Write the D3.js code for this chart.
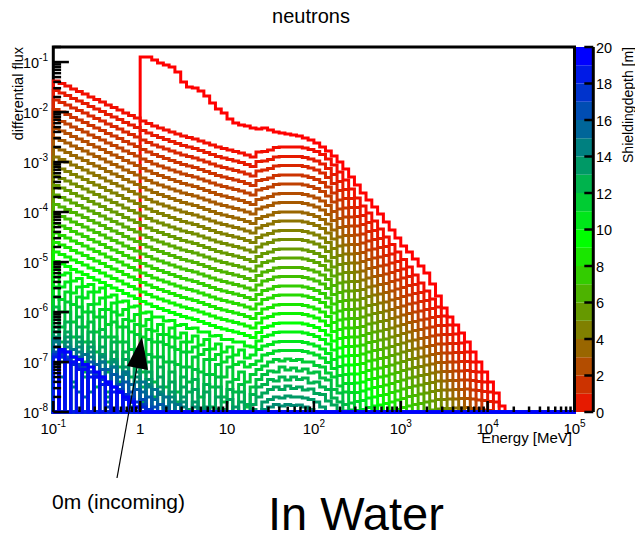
<!DOCTYPE html>
<html>
<head>
<meta charset="utf-8">
<title>neutrons</title>
<script src="https://cdn.jsdelivr.net/npm/d3@7/dist/d3.min.js"></script>
<style>
  html, body { margin: 0; padding: 0; background: #fff; }
  svg text { font-family: "Liberation Sans", Arial, Helvetica, sans-serif; fill: #000; }
</style>
</head>
<body>
<svg id="chart" width="635" height="540"></svg>
<script>
// Neutron spectra behind increasing water shielding depth.
// Every spectrum is a histogram over 90 log-spaced energy bins (15 per decade, 0.1 MeV .. 1e5 MeV).
// Values are log10(differential flux) per bin, starting at bin 0 (the incoming spectrum starts at bin 15);
// null marks an empty bin, bins past the end of an array are empty.

const energyRange = [0.1, 1e5];
const binsPerDecade = 15;
const fluxRange = [1e-8, 0.2];
const depthRange = [0, 20];
const xTickExponents = [-1, 0, 1, 2, 3, 4, 5];
const yTickExponents = [-8, -7, -6, -5, -4, -3, -2, -1];
const depthTicks = [0, 2, 4, 6, 8, 10, 12, 14, 16, 18, 20];
const incomingStartBin = 15;

const depths = [0, 0.5, 1, 1.5, 2, 2.5, 3, 3.5, 4, 4.5, 5, 5.5, 6, 6.5, 7, 7.5, 8, 8.5, 9, 9.5, 10,
                10.5, 11, 11.5, 12, 12.5, 13, 13.5, 14, 14.5, 15, 15.5, 16, 16.5, 17, 17.5, 18, 18.5, 19, 19.5, 20];

const f0_0 = [-0.90,-0.90,-0.96,-1.02,-1.06,-1.10,-1.20,-1.40,-1.50,-1.52,-1.58,-1.68,-1.82,-1.94,-2.02,-2.14,-2.22,-2.26,-2.28,-2.32,-2.34,
  -2.32,-2.36,-2.40,-2.42,-2.44,-2.46,-2.48,-2.52,-2.56,-2.62,-2.70,-2.78,-2.88,-3.00,-3.14,-3.30,-3.46,-3.62,-3.76,-3.90,-4.04,-4.20,-4.36,-4.52,
  -4.68,-4.80,-4.94,-5.08,-5.22,-5.44,-5.68,-5.92,-6.10,-6.26,-6.42,-6.60,-6.80,-7.00,-7.20,-7.40,-7.62,-7.88];
const f0_5 = [-1.38,-1.43,-1.48,-1.54,-1.59,-1.64,-1.70,-1.75,-1.80,-1.86,-1.91,-1.96,-2.02,-2.07,-2.12,-2.18,-2.23,-2.28,-2.32,-2.36,-2.40,-2.44,-2.48,-2.51,-2.54,-2.58,-2.62,-2.66,-2.70,-2.73,-2.76,-2.79,-2.82,-2.86,-2.90,-2.80,
  -2.79,-2.76,-2.71,-2.70,-2.70,-2.70,-2.70,-2.72,-2.75,-2.79,-2.85,-2.94,-3.06,-3.20,-3.36,-3.54,-3.72,-3.88,-4.02,-4.18,-4.34,-4.50,-4.65,-4.80,-4.95,-5.10,-5.26,-5.42,-5.58,-5.74,-5.90,-6.08,-6.26,-6.44,-6.62,-6.80,-7.00,-7.20,-7.40,-7.60,-7.80,-8.00];
const f1_0 = [-1.57,-1.62,-1.67,-1.73,-1.78,-1.83,-1.89,-1.94,-1.99,-2.05,-2.10,-2.15,-2.21,-2.26,-2.31,-2.37,-2.42,-2.47,-2.51,-2.55,-2.59,-2.63,-2.67,-2.70,-2.73,-2.77,-2.81,-2.85,-2.89,-2.92,-2.95,-2.98,-3.01,-3.05,-3.09,-2.99,
  -2.98,-2.95,-2.90,-2.89,-2.89,-2.89,-2.89,-2.91,-2.94,-2.98,-3.04,-3.13,-3.25,-3.39,-3.55,-3.73,-3.91,-4.07,-4.21,-4.37,-4.53,-4.69,-4.84,-4.99,-5.14,-5.29,-5.45,-5.61,-5.77,-5.93,-6.09,-6.27,-6.45,-6.63,-6.81,-6.99,-7.19,-7.39,-7.59,-7.79,-7.99];
const f1_5 = [-1.76,-1.81,-1.86,-1.92,-1.97,-2.02,-2.08,-2.13,-2.18,-2.24,-2.29,-2.34,-2.40,-2.45,-2.50,-2.56,-2.61,-2.66,-2.70,-2.74,-2.78,-2.82,-2.86,-2.89,-2.92,-2.96,-3.00,-3.04,-3.08,-3.11,-3.14,-3.17,-3.20,-3.24,-3.28,-3.18,
  -3.16,-3.13,-3.08,-3.07,-3.07,-3.07,-3.07,-3.09,-3.12,-3.16,-3.22,-3.31,-3.43,-3.57,-3.73,-3.91,-4.09,-4.25,-4.39,-4.55,-4.71,-4.87,-5.02,-5.17,-5.32,-5.47,-5.63,-5.79,-5.95,-6.11,-6.27,-6.45,-6.63,-6.81,-6.99,-7.17,-7.37,-7.57,-7.77,-7.97];
const f2_0 = [-1.95,-2.00,-2.05,-2.11,-2.16,-2.21,-2.27,-2.32,-2.37,-2.43,-2.48,-2.53,-2.59,-2.64,-2.69,-2.75,-2.80,-2.85,-2.89,-2.93,-2.97,-3.01,-3.05,-3.08,-3.11,-3.15,-3.19,-3.23,-3.27,-3.30,-3.33,-3.36,-3.39,-3.43,-3.47,-3.37,
  -3.35,-3.32,-3.27,-3.26,-3.26,-3.26,-3.26,-3.28,-3.31,-3.35,-3.41,-3.50,-3.62,-3.76,-3.92,-4.10,-4.28,-4.44,-4.58,-4.74,-4.90,-5.06,-5.21,-5.36,-5.51,-5.66,-5.82,-5.98,-6.14,-6.30,-6.46,-6.64,-6.82,-7.00,-7.18,-7.36,-7.56,-7.76,-7.96];
const f2_5 = [-2.14,-2.19,-2.24,-2.30,-2.35,-2.40,-2.46,-2.51,-2.56,-2.62,-2.67,-2.72,-2.78,-2.83,-2.88,-2.94,-2.99,-3.04,-3.08,-3.12,-3.16,-3.20,-3.24,-3.27,-3.30,-3.34,-3.38,-3.42,-3.46,-3.49,-3.52,-3.55,-3.58,-3.62,-3.66,-3.56,
  -3.53,-3.50,-3.45,-3.44,-3.44,-3.44,-3.44,-3.46,-3.49,-3.53,-3.59,-3.68,-3.80,-3.94,-4.10,-4.28,-4.46,-4.62,-4.76,-4.92,-5.08,-5.24,-5.39,-5.54,-5.69,-5.84,-6.00,-6.16,-6.32,-6.48,-6.64,-6.82,-7.00,-7.18,-7.36,-7.54,-7.74,-7.94];
const f3_0 = [-2.33,-2.38,-2.43,-2.49,-2.54,-2.59,-2.65,-2.70,-2.75,-2.81,-2.86,-2.91,-2.97,-3.02,-3.07,-3.13,-3.18,-3.23,-3.27,-3.31,-3.35,-3.39,-3.43,-3.46,-3.49,-3.53,-3.57,-3.61,-3.65,-3.68,-3.71,-3.74,-3.77,-3.81,-3.85,-3.75,
  -3.72,-3.69,-3.64,-3.63,-3.63,-3.63,-3.63,-3.65,-3.68,-3.72,-3.78,-3.87,-3.99,-4.13,-4.29,-4.47,-4.65,-4.81,-4.95,-5.11,-5.27,-5.43,-5.58,-5.73,-5.88,-6.03,-6.19,-6.35,-6.51,-6.67,-6.83,-7.01,-7.19,-7.37,-7.55,-7.73,-7.93];
const f3_5 = [-2.52,-2.57,-2.62,-2.68,-2.73,-2.78,-2.84,-2.89,-2.94,-3.00,-3.05,-3.10,-3.16,-3.21,-3.26,-3.32,-3.37,-3.42,-3.46,-3.50,-3.54,-3.58,-3.62,-3.65,-3.68,-3.72,-3.76,-3.80,-3.84,-3.87,-3.90,-3.93,-3.96,-4.00,-4.04,-3.94,
  -3.90,-3.87,-3.82,-3.81,-3.81,-3.81,-3.81,-3.83,-3.86,-3.90,-3.96,-4.05,-4.17,-4.31,-4.47,-4.65,-4.83,-4.99,-5.13,-5.29,-5.45,-5.61,-5.76,-5.91,-6.06,-6.21,-6.37,-6.53,-6.69,-6.85,-7.01,-7.19,-7.37,-7.55,-7.73,-7.91];
const f4_0 = [-2.71,-2.76,-2.81,-2.87,-2.92,-2.97,-3.03,-3.08,-3.13,-3.19,-3.24,-3.29,-3.35,-3.40,-3.45,-3.51,-3.56,-3.61,-3.65,-3.69,-3.73,-3.77,-3.81,-3.84,-3.87,-3.91,-3.95,-3.99,-4.03,-4.06,-4.09,-4.12,-4.15,-4.19,-4.23,-4.13,
  -4.09,-4.06,-4.01,-4.00,-4.00,-4.00,-4.00,-4.02,-4.05,-4.09,-4.15,-4.24,-4.36,-4.50,-4.66,-4.84,-5.02,-5.18,-5.32,-5.48,-5.64,-5.80,-5.95,-6.10,-6.25,-6.40,-6.56,-6.72,-6.88,-7.04,-7.20,-7.38,-7.56,-7.74,-7.92];
const f4_5 = [-2.90,-2.95,-3.00,-3.06,-3.11,-3.16,-3.22,-3.27,-3.32,-3.38,-3.43,-3.48,-3.54,-3.59,-3.64,-3.70,-3.75,-3.80,-3.84,-3.88,-3.92,-3.96,-4.00,-4.03,-4.06,-4.10,-4.14,-4.18,-4.22,-4.25,-4.28,-4.31,-4.34,-4.38,-4.42,-4.32,
  -4.27,-4.24,-4.19,-4.18,-4.18,-4.18,-4.18,-4.20,-4.23,-4.27,-4.33,-4.42,-4.54,-4.68,-4.84,-5.02,-5.20,-5.36,-5.50,-5.66,-5.82,-5.98,-6.13,-6.28,-6.43,-6.58,-6.74,-6.90,-7.06,-7.22,-7.38,-7.56,-7.74,-7.92];
const f5_0 = [-3.09,-3.14,-3.19,-3.25,-3.30,-3.35,-3.41,-3.46,-3.51,-3.57,-3.62,-3.67,-3.73,-3.78,-3.83,-3.89,-3.94,-3.99,-4.03,-4.07,-4.11,-4.15,-4.19,-4.22,-4.25,-4.29,-4.33,-4.37,-4.41,-4.44,-4.47,-4.50,-4.53,-4.57,-4.61,-4.51,
  -4.46,-4.43,-4.38,-4.37,-4.37,-4.37,-4.37,-4.39,-4.42,-4.46,-4.52,-4.61,-4.73,-4.87,-5.03,-5.21,-5.39,-5.55,-5.69,-5.85,-6.01,-6.17,-6.32,-6.47,-6.62,-6.77,-6.93,-7.09,-7.25,-7.41,-7.57,-7.75,-7.93];
const f5_5 = [-3.28,-3.33,-3.38,-3.44,-3.49,-3.54,-3.60,-3.65,-3.70,-3.76,-3.81,-3.86,-3.92,-3.97,-4.02,-4.08,-4.13,-4.18,-4.22,-4.26,-4.30,-4.34,-4.38,-4.41,-4.44,-4.48,-4.52,-4.56,-4.60,-4.63,-4.66,-4.69,-4.72,-4.76,-4.80,-4.70,
  -4.64,-4.61,-4.56,-4.55,-4.55,-4.55,-4.55,-4.57,-4.60,-4.64,-4.70,-4.79,-4.91,-5.05,-5.21,-5.39,-5.57,-5.73,-5.87,-6.03,-6.19,-6.35,-6.50,-6.65,-6.80,-6.95,-7.11,-7.27,-7.43,-7.59,-7.75,-7.93];
const f6_0 = [-3.47,-3.52,-3.57,-3.63,-3.68,-3.73,-3.79,-3.84,-3.89,-3.95,-4.00,-4.05,-4.11,-4.16,-4.21,-4.27,-4.32,-4.37,-4.41,-4.45,-4.49,-4.53,-4.57,-4.60,-4.63,-4.67,-4.71,-4.75,-4.79,-4.82,-4.85,-4.88,-4.91,-4.95,-4.99,-4.89,
  -4.83,-4.80,-4.75,-4.74,-4.74,-4.74,-4.74,-4.76,-4.79,-4.83,-4.89,-4.98,-5.10,-5.24,-5.40,-5.58,-5.76,-5.92,-6.06,-6.22,-6.38,-6.54,-6.69,-6.84,-6.99,-7.14,-7.30,-7.46,-7.62,-7.78,-7.94];
const f6_5 = [-3.66,-3.71,-3.76,-3.82,-3.87,-3.92,-3.98,-4.03,-4.08,-4.14,-4.19,-4.24,-4.30,-4.35,-4.40,-4.46,-4.51,-4.56,-4.60,-4.64,-4.68,-4.72,-4.76,-4.79,-4.82,-4.86,-4.90,-4.94,-4.98,-5.01,-5.04,-5.07,-5.10,-5.14,-5.18,-5.08,
  -5.01,-4.98,-4.93,-4.92,-4.92,-4.92,-4.92,-4.94,-4.97,-5.01,-5.07,-5.16,-5.28,-5.42,-5.58,-5.76,-5.94,-6.10,-6.24,-6.40,-6.56,-6.72,-6.87,-7.02,-7.17,-7.32,-7.48,-7.64,-7.80,-7.96];
const f7_0 = [-3.85,-3.90,-3.95,-4.01,-4.06,-4.11,-4.17,-4.22,-4.27,-4.33,-4.38,-4.43,-4.49,-4.54,-4.59,-4.65,-4.70,-4.75,-4.79,-4.83,-4.87,-4.91,-4.95,-4.98,-5.01,-5.05,-5.09,-5.13,-5.17,-5.20,-5.23,-5.26,-5.29,-5.33,-5.37,-5.27,
  -5.20,-5.17,-5.12,-5.11,-5.11,-5.11,-5.11,-5.13,-5.16,-5.20,-5.26,-5.35,-5.47,-5.61,-5.77,-5.95,-6.13,-6.29,-6.43,-6.59,-6.75,-6.91,-7.06,-7.21,-7.36,-7.51,-7.67,-7.83,-7.99];
const f7_5 = [-4.04,-4.09,-4.14,-4.20,-4.25,-4.30,-4.36,-4.41,-4.46,-4.52,-4.57,-4.62,-4.68,-4.73,-4.78,-4.84,-4.89,-4.94,-4.98,-5.02,-5.06,-5.10,-5.14,-5.17,-5.20,-5.24,-5.28,-5.32,-5.36,-5.39,-5.42,-5.45,-5.48,-5.52,-5.56,-5.46,
  -5.38,-5.35,-5.30,-5.29,-5.29,-5.29,-5.29,-5.31,-5.34,-5.38,-5.44,-5.53,-5.65,-5.79,-5.95,-6.13,-6.31,-6.47,-6.61,-6.77,-6.93,-7.09,-7.24,-7.39,-7.54,-7.69,-7.85];
const f8_0 = [-4.23,-4.28,-4.33,-4.39,-4.44,-4.49,-4.55,-4.60,-4.65,-4.71,-4.76,-4.81,-4.87,-4.92,-4.97,-5.03,-5.08,-5.13,-5.17,-5.21,-5.25,-5.29,-5.33,-5.36,-5.39,-5.43,-5.47,-5.51,-5.55,-5.58,-5.61,-5.64,-5.67,-5.71,-5.75,-5.65,
  -5.57,-5.54,-5.49,-5.48,-5.48,-5.48,-5.48,-5.50,-5.53,-5.57,-5.63,-5.72,-5.84,-5.98,-6.14,-6.32,-6.50,-6.66,-6.80,-6.96,-7.12,-7.28,-7.43,-7.58,-7.73,-7.88];
const f8_5 = [-4.42,-4.47,-4.52,-4.58,-4.63,-4.68,-4.74,-4.79,-4.84,-4.90,-4.95,-5.00,-5.06,-5.11,-5.16,-5.22,-5.27,-5.32,-5.36,-5.40,-5.44,-5.48,-5.52,-5.55,-5.58,-5.62,-5.66,-5.70,-5.74,-5.77,-5.80,-5.83,-5.86,-5.90,-5.94,-5.84,
  -5.75,-5.72,-5.67,-5.66,-5.66,-5.66,-5.66,-5.68,-5.71,-5.75,-5.81,-5.90,-6.02,-6.16,-6.32,-6.50,-6.68,-6.84,-6.98,-7.14,-7.30,-7.46,-7.61,-7.76,-7.91];
const f9_0 = [-4.61,-4.66,-4.71,-4.77,-4.82,-4.87,-4.93,-4.98,-5.03,-5.09,-5.14,-5.19,-5.25,-5.30,-5.35,-5.41,-5.46,-5.51,-5.55,-5.59,-5.63,-5.67,-5.71,-5.74,-5.77,-5.81,-5.85,-5.89,-5.93,-5.96,-5.99,-6.02,-6.05,-6.09,-6.13,-6.03,
  -5.94,-5.91,-5.86,-5.85,-5.85,-5.85,-5.85,-5.87,-5.90,-5.94,-6.00,-6.09,-6.21,-6.35,-6.51,-6.69,-6.87,-7.03,-7.17,-7.33,-7.49,-7.65,-7.80,-7.95];
const f9_5 = [-4.80,-4.85,-4.90,-4.96,-5.01,-5.06,-5.12,-5.17,-5.22,-5.28,-5.33,-5.38,-5.44,-5.49,-5.54,-5.60,-5.65,-5.70,-5.74,-5.78,-5.82,-5.86,-5.90,-5.93,-5.96,-6.00,-6.04,-6.08,-6.12,-6.15,-6.18,-6.21,-6.24,-6.28,-6.32,-6.22,
  -6.12,-6.09,-6.04,-6.03,-6.03,-6.03,-6.03,-6.05,-6.08,-6.12,-6.18,-6.27,-6.39,-6.53,-6.69,-6.87,-7.05,-7.21,-7.35,-7.51,-7.67,-7.83,-7.98];
const f10_0 = [-4.99,-5.04,-5.09,-5.15,-5.20,-5.25,-5.31,-5.36,-5.41,-5.47,-5.52,-5.57,-5.63,-5.68,-5.73,-5.79,-5.84,-5.89,-5.93,-5.97,-6.01,-6.05,-6.09,-6.12,-6.15,-6.19,-6.23,-6.27,-6.31,-6.34,-6.37,-6.40,-6.43,-6.47,-6.51,-6.41,
  -6.31,-6.28,-6.23,-6.22,-6.22,-6.22,-6.22,-6.24,-6.27,-6.31,-6.37,-6.46,-6.58,-6.72,-6.88,-7.06,-7.24,-7.40,-7.54,-7.70,-7.86];
const f10_5 = [-5.12,-5.26,-5.22,-5.38,-5.33,-5.49,-5.45,-5.60,-5.52,-5.70,-5.66,-5.80,-5.78,-5.90,-5.88,-6.02,-6.00,-6.10,-6.10,-6.18,-6.17,-6.27,-6.25,-6.33,-6.32,-6.40,-6.40,-6.48,-6.47,-6.55,-6.55,-6.60,-6.60,-6.68,-6.70,-6.58,
  -6.49,-6.46,-6.41,-6.40,-6.40,-6.40,-6.40,-6.42,-6.45,-6.49,-6.55,-6.64,-6.76,-6.90,-7.06,-7.24,-7.42,-7.58,-7.72,-7.88];
const f11_0 = [-5.30,-5.50,-5.40,-5.62,-5.50,-5.72,-5.60,-5.84,-5.72,-5.95,-5.82,-6.06,-5.95,-6.18,-6.05,-6.28,-6.15,-6.38,-6.25,-6.45,-6.32,-6.52,-6.42,-6.60,-6.48,-6.66,-6.55,-6.74,-6.64,-6.80,-6.70,-6.86,-6.76,-6.92,-6.86,-6.75,
  -6.68,-6.65,-6.60,-6.59,-6.59,-6.59,-6.59,-6.61,-6.64,-6.68,-6.74,-6.83,-6.95,-7.09,-7.25,-7.43,-7.61,-7.77,-7.91];
const f11_5 = [-5.50,-5.75,-5.60,-5.85,-5.70,-6.00,-5.85,-6.10,-5.95,-6.25,-6.00,-6.30,-6.15,-6.40,-6.25,-6.50,-6.35,-6.60,-6.45,-6.65,-6.50,-6.75,-6.60,-6.80,-6.70,-6.85,-6.75,-6.95,-6.85,-7.00,-6.90,-7.05,-7.00,-7.10,-7.05,-6.98,
  -6.86,-6.83,-6.78,-6.77,-6.77,-6.77,-6.77,-6.79,-6.82,-6.86,-6.92,-7.01,-7.13,-7.27,-7.43,-7.61,-7.79,-7.95];
const f12_0 = [-5.70,-6.00,-5.80,-6.20,-5.90,-6.30,-6.00,-6.40,-6.10,-6.50,-6.20,-6.60,-6.30,-6.75,-6.45,-6.80,-6.55,-6.90,-6.60,-7.00,-6.70,-7.05,-6.80,-7.10,-6.90,-7.20,-6.95,-7.25,-7.05,-7.30,-7.10,-7.35,-7.20,-7.40,-7.25,-7.15,
  -7.08,-7.00,-6.95,-6.98,-6.94,-6.97,-6.95,-7.00,-7.00,-7.07,-7.10,-7.22,-7.30,-7.48,-7.60,-7.82,-7.97];
const f12_5 = [-5.90,-6.30,-6.00,-6.50,-6.10,-6.60,-6.20,-6.80,-6.35,-7.00,-6.50,-7.10,-6.60,-7.30,-6.75,-7.20,-6.85,-7.40,-6.90,-7.50,-7.00,-7.60,-7.10,-7.40,-7.15,-7.70,-7.25,-7.50,-7.30,-7.80,-7.40,-7.60,-7.45,-7.90,-7.50,-7.35,
  -7.25,-7.18,-7.20,-7.10,-7.16,-7.12,-7.18,-7.14,-7.22,-7.20,-7.32,-7.36,-7.55,-7.62,-7.85,-7.96];
const f13_0 = [-6.10,-6.60,-6.20,-6.90,-6.30,-7.00,-6.40,null,-6.50,-7.20,-6.60,-7.40,-6.80,null,-6.90,-7.50,-7.00,-7.70,-7.10,null,-7.20,-7.80,-7.30,-7.60,-7.35,null,-7.45,-7.90,-7.50,-7.70,-7.55,null,-7.60,-7.85,-7.65,-7.50,
  -7.45,-7.35,-7.38,-7.30,-7.36,-7.30,-7.35,-7.32,-7.42,-7.40,-7.50,-7.55,-7.72,-7.80,-7.98];
const f13_5 = [-6.30,-6.90,-6.40,null,-6.50,-7.20,-6.60,-7.50,-6.70,null,-6.80,-7.60,-6.95,null,-7.10,-7.80,-7.20,null,-7.30,-7.90,-7.40,null,-7.50,-7.95,-7.55,null,-7.60,null,-7.70,-7.95,-7.75,null,-7.80,null,-7.85,-7.70,
  -7.62,-7.55,-7.50,-7.55,-7.48,-7.53,-7.50,-7.56,-7.54,-7.63,-7.65,-7.78,-7.86];
const f14_0 = [-6.40,-7.00,-6.50,null,-6.60,-7.30,-6.70,null,-6.85,-7.60,-6.95,null,-7.10,-7.80,-7.20,null,-7.35,null,-7.50,-7.90,-7.60,null,-7.70,null,-7.80,null,-7.90,null,-7.95,null,null,-7.90,null,null,-7.95,null,
  -7.80,-7.75,-7.70,-7.72,-7.68,-7.70,-7.70,-7.72,-7.75,-7.80,-7.90];
const f14_5 = [-6.50,null,-6.60,-7.40,-6.70,null,-6.80,null,-6.90,-7.70,-7.00,null,-7.20,null,-7.30,-7.90,-7.45,null,-7.60,null,-7.70,null,-7.80,null,-7.90,null,-7.95,null,null,null,null,null,null,null,null,null,
  -7.95,-7.90,-7.85,-7.88,-7.85,-7.87,-7.86,-7.90,-7.95];
const f15_0 = [-6.60,null,-6.70,-7.50,-6.80,null,-6.90,null,-7.00,-7.80,-7.10,null,-7.25,null,-7.40,null,-7.50,null,-7.65,null,-7.80,null,-7.90];
const f15_5 = [-6.55,-7.30,null,-6.75,null,-6.85,-7.60,null,-7.00,null,-7.10,null,-7.20,-7.90,null,-7.40,null,-7.55,null,-7.70,null,-7.85];
const f16_0 = [-6.70,null,-6.80,null,-6.90,-7.70,null,-7.05,null,-7.15,null,-7.30,null,-7.45,null,-7.60,null,-7.75,null,-7.90];
const f16_5 = [null,-6.75,null,-6.90,-7.60,null,-7.00,null,-7.15,null,-7.25,null,-7.40,null,-7.55,null,-7.70,null,-7.85];
const f17_0 = [-6.80,null,-6.90,null,-7.05,null,-7.20,null,-7.30,-7.90,null,-7.45,null,-7.60,null,-7.75,null,-7.90];
const f17_5 = [null,-6.85,null,-7.00,null,-7.10,null,-7.25,null,-7.40,null,-7.55,null,-7.70,null,-7.85];
const f18_0 = [-6.85,null,-6.95,null,-7.10,null,-7.20,null,-7.35,null,-7.50,null,-7.65,null,-7.80,null,-7.95];
const f18_5 = [null,-6.90,null,-7.05,null,-7.15,null,-7.30,null,-7.45,null,-7.60,null,-7.75,null,-7.90];
const f19_0 = [-6.90,null,-7.00,null,-7.15,null,-7.30,null,-7.45,null,-7.60,null,-7.75,null,-7.90];
const f19_5 = [null,-6.80,null,-7.00,null,-7.15,null,-7.30,null,-7.45,null,-7.60,null,-7.80];
const f20_0 = [null,-6.75,-6.80,-6.90,-6.95,-7.05,-7.10,-7.20,-7.30,-7.40,-7.50,-7.60,-7.70,-7.80,-7.90];

const spectra = [f0_0, f0_5, f1_0, f1_5, f2_0, f2_5, f3_0, f3_5, f4_0, f4_5, f5_0, f5_5, f6_0, f6_5, f7_0, f7_5,
  f8_0, f8_5, f9_0, f9_5, f10_0, f10_5, f11_0, f11_5, f12_0, f12_5, f13_0, f13_5, f14_0, f14_5, f15_0, f15_5,
  f16_0, f16_5, f17_0, f17_5, f18_0, f18_5, f19_0, f19_5, f20_0];

// ---- layout ----
const svg = d3.select("#chart");
const plot = { left: 53.3, right: 574.5, top: 47, bottom: 412 };
const bar = { left: 576, right: 592, axis: 593.3 };

const x = d3.scaleLog().domain(energyRange).range([plot.left, plot.right]);
const y = d3.scaleLog().domain(fluxRange).range([plot.bottom, plot.top]);
const depthScale = d3.scaleLinear().domain(depthRange).range([plot.bottom, plot.top]);
const depthColor = d3.scaleLinear().domain([0, 10, 20]).range(["#ff0000", "#00ff00", "#0000ff"]);

const nBins = binsPerDecade * Math.round(Math.log10(energyRange[1] / energyRange[0]));
const edges = d3.range(nBins + 1).map(i => energyRange[0] * Math.pow(10, i / binsPerDecade));

svg.append("rect").attr("width", 635).attr("height", 540).attr("fill", "#fff");

// frame
svg.append("rect")
  .attr("x", plot.left).attr("y", plot.top)
  .attr("width", plot.right - plot.left).attr("height", plot.bottom - plot.top)
  .attr("fill", "none").attr("stroke", "#000").attr("stroke-width", 3);

// histogram outlines
const level = v => (v == null || v < -8) ? plot.bottom : y(Math.pow(10, v));
const stepLine = d3.line().x(d => d[0]).y(d => d[1]).curve(d3.curveStepAfter);

spectra.forEach((vals, s) => {
  const start = depths[s] === 0 ? incomingStartBin : 0;
  const pts = [[x(edges[0]), plot.bottom]];
  for (let i = 0; i < nBins; i++) {
    const j = i - start;
    const v = (j >= 0 && j < vals.length) ? vals[j] : null;
    pts.push([x(edges[i]), level(v)]);
  }
  pts.push([x(edges[nBins]), pts[pts.length - 1][1]]);
  pts.push([x(edges[nBins]), plot.bottom]);
  svg.append("path")
    .attr("d", stepLine(pts))
    .attr("fill", "none")
    .attr("stroke", depthColor(depths[s]))
    .attr("stroke-width", 3)
    .attr("stroke-linejoin", "miter")
    .attr("stroke-linecap", "square");
});

// ticks on top of the histograms
const isDecade = t => Math.abs(Math.log10(t) - Math.round(Math.log10(t))) < 1e-9;
const ticks = svg.append("g").attr("stroke", "#000").attr("stroke-width", 2.5);
x.ticks().forEach(t => {
  const len = isDecade(t) ? 11 : 5.5;
  ticks.append("line").attr("x1", x(t)).attr("x2", x(t))
    .attr("y1", plot.bottom).attr("y2", plot.bottom - len);
});
y.ticks().forEach(t => {
  const len = isDecade(t) ? 15.6 : 7.8;
  ticks.append("line").attr("x1", plot.left).attr("x2", plot.left + len)
    .attr("y1", y(t)).attr("y2", y(t));
});

// tick labels: powers of ten with raised exponents
function powerLabel(sel, e, supSize) {
  if (e === 0) { sel.text("1"); return; }
  if (e === 1) { sel.text("10"); return; }
  sel.append("tspan").text("10");
  sel.append("tspan").attr("dy", -7).attr("font-size", supSize).text(e);
}
xTickExponents.forEach(e => {
  const t = svg.append("text")
    .attr("x", x(Math.pow(10, e))).attr("y", plot.bottom + 21.5)
    .attr("text-anchor", "middle").attr("font-size", 15);
  powerLabel(t, e, 10);
});
yTickExponents.forEach(e => {
  const t = svg.append("text")
    .attr("x", 48).attr("y", y(Math.pow(10, e)) + 5.5)
    .attr("text-anchor", "end").attr("font-size", 14.5);
  powerLabel(t, e, 10);
});

// axis titles and title
svg.append("text").attr("x", 311).attr("y", 23).attr("text-anchor", "middle")
  .attr("font-size", 20).text("neutrons");
svg.append("text").attr("transform", `translate(23,${plot.top}) rotate(-90)`)
  .attr("text-anchor", "end").attr("font-size", 14.5).text("differential flux");
svg.append("text").attr("x", 572).attr("y", 443).attr("text-anchor", "end")
  .attr("font-size", 15).text("Energy [MeV]");

// depth colour bar
const bands = d3.range(depthRange[0], depthRange[1]);
svg.append("g").selectAll("rect").data(bands).join("rect")
  .attr("x", bar.left).attr("width", bar.right - bar.left)
  .attr("y", d => depthScale(d + 1)).attr("height", d => depthScale(d) - depthScale(d + 1))
  .attr("fill", d => depthColor(d + 1));
svg.append("line").attr("x1", bar.axis).attr("x2", bar.axis)
  .attr("y1", plot.top).attr("y2", plot.bottom)
  .attr("stroke", "#000").attr("stroke-width", 3);
svg.append("g").selectAll("line").data(depthTicks).join("line")
  .attr("x1", bar.axis - 9).attr("x2", bar.axis)
  .attr("y1", d => depthScale(d)).attr("y2", d => depthScale(d))
  .attr("stroke", "#000").attr("stroke-width", 2.5);
svg.append("g").selectAll("text").data(depthTicks).join("text")
  .attr("x", 596).attr("y", d => depthScale(d) + 5.5)
  .attr("font-size", 14.5).text(d => d);
svg.append("text").attr("transform", `translate(633,${plot.top}) rotate(-90)`)
  .attr("text-anchor", "end").attr("font-size", 14).text("Shieldingdepth [m]");

// annotation for the unshielded spectrum
svg.append("line").attr("x1", 117).attr("y1", 478).attr("x2", 137).attr("y2", 367)
  .attr("stroke", "#000").attr("stroke-width", 1.2);
svg.append("polygon").attr("points", "142,337 127,366 148,370").attr("fill", "#000");
svg.append("text").attr("x", 52).attr("y", 509).attr("font-size", 21).text("0m (incoming)");
svg.append("text").attr("x", 268).attr("y", 530).attr("font-size", 47).text("In Water");
</script>
</body>
</html>
